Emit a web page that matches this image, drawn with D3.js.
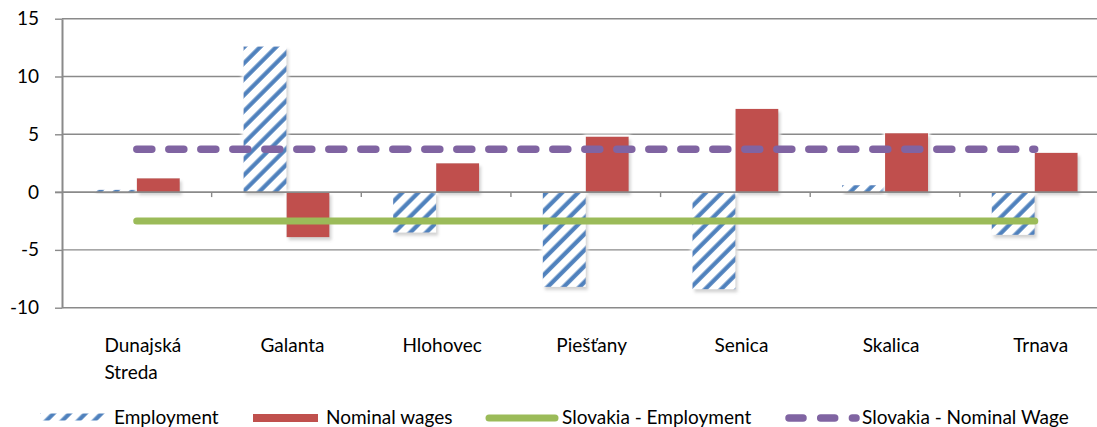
<!DOCTYPE html>
<html>
<head>
<meta charset="utf-8">
<script src="https://cdn.jsdelivr.net/npm/d3@7/dist/d3.min.js"></script>
<style>
  html, body { margin: 0; padding: 0; background: #fff; }
  svg { display: block; }
  text { font-family: Lato, "Noto Sans", sans-serif; fill: #000; }
</style>
</head>
<body>
<svg id="chart" width="1097" height="427"></svg>
<script>
// Year-on-year change (%) by district of the Trnava region
const categories = ["Dunajská Streda", "Galanta", "Hlohovec", "Piešťany", "Senica", "Skalica", "Trnava"];
const employment = [0.2, 12.6, -3.5, -8.2, -8.4, 0.6, -3.7];
const nominalWages = [1.2, -3.9, 2.5, 4.8, 7.2, 5.1, 3.4];
const slovakiaEmployment = [-2.5, -2.5, -2.5, -2.5, -2.5, -2.5, -2.5];
const slovakiaNominalWage = [3.7, 3.7, 3.7, 3.7, 3.7, 3.7, 3.7];
const yTicks = [-10, -5, 0, 5, 10, 15];
const seriesNames = ["Employment", "Nominal wages", "Slovakia - Employment", "Slovakia - Nominal Wage"];

const BLUE = "#4F81BD", RED = "#C0504D", GREEN = "#9BBB59", PURPLE = "#8064A2", GRID = "#8a8a8a";
const FONT = 19;

const svg = d3.select("#chart");
const defs = svg.append("defs");

// diagonal hatch for the employment bars
const pat = defs.append("pattern")
  .attr("id", "hatch").attr("patternUnits", "userSpaceOnUse")
  .attr("width", 11.3).attr("height", 11.3)
  .attr("patternTransform", "rotate(45)");
pat.append("rect").attr("width", 11.3).attr("height", 11.3).attr("fill", "#fff");
pat.append("line").attr("x1", 2.5).attr("x2", 2.5).attr("y1", 0).attr("y2", 11.3)
  .attr("stroke", BLUE).attr("stroke-width", 4.2);

// soft white glow plus drop shadow around bars
const fx = defs.append("filter").attr("id", "barfx")
  .attr("x", "-40%").attr("y", "-40%").attr("width", "180%").attr("height", "180%");
fx.append("feMorphology").attr("in", "SourceAlpha").attr("operator", "dilate").attr("radius", 2).attr("result", "d");
fx.append("feGaussianBlur").attr("in", "d").attr("stdDeviation", 1.5).attr("result", "db");
fx.append("feFlood").attr("flood-color", "#fff").attr("result", "wf");
fx.append("feComposite").attr("in", "wf").attr("in2", "db").attr("operator", "in").attr("result", "glow");
fx.append("feGaussianBlur").attr("in", "SourceAlpha").attr("stdDeviation", 1.6).attr("result", "sb");
fx.append("feOffset").attr("in", "sb").attr("dx", 2).attr("dy", 2.5).attr("result", "so");
fx.append("feFlood").attr("flood-color", "#000").attr("flood-opacity", 0.35).attr("result", "sf");
fx.append("feComposite").attr("in", "sf").attr("in2", "so").attr("operator", "in").attr("result", "shadow");
const merge = fx.append("feMerge");
merge.append("feMergeNode").attr("in", "glow");
merge.append("feMergeNode").attr("in", "shadow");
merge.append("feMergeNode").attr("in", "SourceGraphic");

// scales
const x = d3.scaleBand().domain(categories).range([62, 1109.5]).paddingInner(0).paddingOuter(0);
const xs = d3.scaleBand().domain(["emp", "wage"]).range([0, x.bandwidth()]).paddingInner(0).paddingOuter(0.74);
const y = d3.scaleLinear().domain([-10, 15]).range([307.7, 18.7]);
const cx = c => x(c) + x.bandwidth() / 2;

// horizontal gridlines
svg.append("g").selectAll("line").data(yTicks.filter(v => v !== 0)).join("line")
  .attr("x1", 62).attr("x2", 1109).attr("y1", d => y(d)).attr("y2", d => y(d))
  .attr("stroke", GRID).attr("stroke-width", 1.4);

// y axis
const yAxis = svg.append("g").attr("transform", "translate(62,0)")
  .call(d3.axisLeft(y).tickValues(yTicks).tickSize(7).tickSizeOuter(0).tickPadding(16).tickFormat(d => String(d)));
yAxis.select(".domain").attr("stroke", GRID).attr("stroke-width", 2);
yAxis.selectAll(".tick line").attr("stroke", GRID).attr("stroke-width", 1.4);
yAxis.selectAll(".tick text").attr("font-size", FONT).attr("font-family", "Lato, 'Noto Sans', sans-serif").attr("fill", "#000");

// bars
const bars = svg.append("g");
bars.selectAll("rect.emp").data(categories).join("rect").attr("class", "emp")
  .attr("x", (c) => x(c) + xs("emp"))
  .attr("width", xs.bandwidth())
  .attr("y", (c, i) => y(Math.max(0, employment[i])))
  .attr("height", (c, i) => Math.abs(y(employment[i]) - y(0)))
  .attr("fill", "url(#hatch)")
  .attr("filter", "url(#barfx)");
bars.selectAll("rect.wage").data(categories).join("rect").attr("class", "wage")
  .attr("x", (c) => x(c) + xs("wage"))
  .attr("width", xs.bandwidth())
  .attr("y", (c, i) => y(Math.max(0, nominalWages[i])))
  .attr("height", (c, i) => Math.abs(y(nominalWages[i]) - y(0)))
  .attr("fill", RED)
  .attr("filter", "url(#barfx)");

// category axis along zero with ticks at band boundaries
const xa = svg.append("g");
xa.append("line").attr("x1", 62).attr("x2", 1109).attr("y1", y(0)).attr("y2", y(0))
  .attr("stroke", GRID).attr("stroke-width", 1.6);
xa.selectAll("line.tk").data(categories.slice(1)).join("line").attr("class", "tk")
  .attr("x1", c => x(c)).attr("x2", c => x(c))
  .attr("y1", y(0)).attr("y2", y(0) + 5)
  .attr("stroke", GRID).attr("stroke-width", 1.4);
svg.append("line").attr("x1", 55).attr("x2", 62).attr("y1", y(0)).attr("y2", y(0))
  .attr("stroke", GRID).attr("stroke-width", 1.4);

// national average lines
const line = d3.line().x((d, i) => cx(categories[i])).y(d => y(d));
svg.append("path").datum(slovakiaEmployment).attr("d", line)
  .attr("fill", "none").attr("stroke", GREEN).attr("stroke-width", 7.2).attr("stroke-linecap", "round");
svg.append("path").datum(slovakiaNominalWage).attr("d", line)
  .attr("fill", "none").attr("stroke", PURPLE).attr("stroke-width", 7.5)
  .attr("stroke-linecap", "round").attr("stroke-dasharray", "15,17");

// category labels (wrapped, left aligned inside a centred block)
const labels = svg.append("g");
categories.forEach(c => {
  const words = c.split(" ");
  const t = labels.append("text").attr("font-size", FONT);
  words.forEach((w, k) => {
    t.append("tspan").attr("x", 0).attr("dy", k === 0 ? 0 : 26.5).text(w);
  });
  const bw = t.node().getBBox().width;
  t.attr("transform", `translate(${cx(c) + 6 - bw / 2},352)`);
});

// legend
const lg = svg.append("g");
const LY = 418;
lg.append("rect").attr("x", 40).attr("y", LY - 4.5).attr("width", 65).attr("height", 7).attr("fill", "url(#hatch)");
lg.append("text").attr("x", 114).attr("y", 424).attr("font-size", FONT).text(seriesNames[0]);
lg.append("rect").attr("x", 253).attr("y", LY - 4).attr("width", 65).attr("height", 8).attr("fill", RED);
lg.append("text").attr("x", 326).attr("y", 424).attr("font-size", FONT).text(seriesNames[1]);
lg.append("line").attr("x1", 489).attr("x2", 555).attr("y1", LY).attr("y2", LY)
  .attr("stroke", GREEN).attr("stroke-width", 7).attr("stroke-linecap", "round");
lg.append("text").attr("x", 562).attr("y", 424).attr("font-size", FONT).text(seriesNames[2]);
lg.append("line").attr("x1", 789).attr("x2", 856).attr("y1", LY).attr("y2", LY)
  .attr("stroke", PURPLE).attr("stroke-width", 7.5).attr("stroke-linecap", "round")
  .attr("stroke-dasharray", "14,17.7");
lg.append("text").attr("x", 862).attr("y", 424).attr("font-size", FONT).text(seriesNames[3]);
</script>
</body>
</html>
